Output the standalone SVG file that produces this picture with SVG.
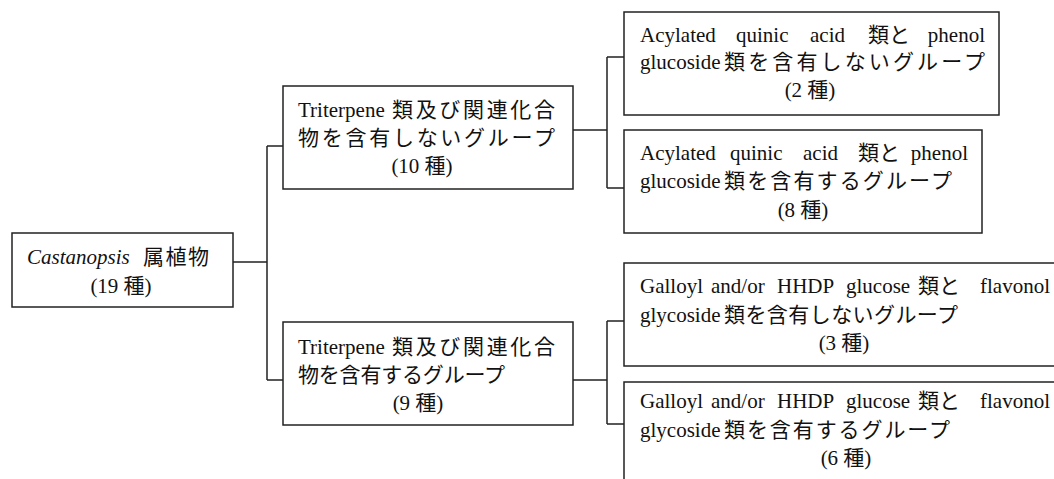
<svg xmlns="http://www.w3.org/2000/svg" width="1054" height="479" viewBox="0 0 1054 479">
<style>
  .box { fill: #fff; stroke: #222; stroke-width: 1.5; }
  .conn { fill: none; stroke: #222; stroke-width: 1.5; }
  text { font-family: "Liberation Serif", "Noto Sans CJK JP", serif; font-size: 21px; fill: #111; }
  .cjk { font-size: 21px; }
  .mid { text-anchor: middle; }
  .end { text-anchor: end; }
</style>
<rect width="1054" height="479" fill="#fff"/>
<g id="connectors">
  <path class="conn" d="M233,262 H267 M267,146 V380 M267,146 H283 M267,380 H283"/>
  <path class="conn" d="M573,130 H607 M607,57 V188 M607,57 H624 M607,188 H624"/>
  <path class="conn" d="M573,380 H607 M607,321 V424 M607,321 H624 M607,424 H624"/>
</g>
<g id="root">
  <rect class="box" x="12" y="233" width="221" height="74"/>
  <text x="27" y="264" font-style="italic">Castanopsis</text>
  <text class="cjk" x="143" y="264" textLength="66" lengthAdjust="spacing">属植物</text>
  <text class="mid" x="121" y="293">(19 種)</text>
</g>
<g id="no-triterpene">
  <rect class="box" x="283" y="86" width="290" height="103"/>
  <text x="298" y="117">Triterpene</text>
  <text class="cjk" x="392" y="117" textLength="163" lengthAdjust="spacing">類及び関連化合</text>
  <text class="cjk" x="298" y="145" textLength="257" lengthAdjust="spacing">物を含有しないグループ</text>
  <text class="mid" x="422" y="173">(10 種)</text>
</g>
<g id="triterpene">
  <rect class="box" x="283" y="322" width="290" height="103"/>
  <text x="298" y="354">Triterpene</text>
  <text class="cjk" x="392" y="354" textLength="163" lengthAdjust="spacing">類及び関連化合</text>
  <text class="cjk" x="298" y="382" textLength="207" lengthAdjust="spacing">物を含有するグループ</text>
  <text class="mid" x="418" y="410">(9 種)</text>
</g>
<g id="no-acylated">
  <rect class="box" x="624" y="12" width="375" height="103"/>
  <text x="640" y="42">Acylated</text>
  <text x="736" y="42">quinic</text>
  <text x="810" y="42">acid</text>
  <text class="cjk" x="868" y="42">類と</text>
  <text class="end" x="985" y="42">phenol</text>
  <text x="640" y="69">glucoside</text>
  <text class="cjk" x="724" y="69" textLength="261" lengthAdjust="spacing">類を含有しないグループ</text>
  <text class="mid" x="810" y="97">(2 種)</text>
</g>
<g id="acylated">
  <rect class="box" x="624" y="130" width="358" height="103"/>
  <text x="640" y="160">Acylated</text>
  <text x="730" y="160">quinic</text>
  <text x="803" y="160">acid</text>
  <text class="cjk" x="858" y="160">類と</text>
  <text class="end" x="968" y="160">phenol</text>
  <text x="640" y="188">glucoside</text>
  <text class="cjk" x="724" y="188" textLength="228" lengthAdjust="spacing">類を含有するグループ</text>
  <text class="mid" x="803" y="217">(8 種)</text>
</g>
<g id="no-galloyl">
  <rect class="box" x="624" y="263" width="440" height="103"/>
  <text x="640" y="293">Galloyl</text>
  <text x="711" y="293">and/or</text>
  <text x="777" y="293">HHDP</text>
  <text x="846" y="293">glucose</text>
  <text class="cjk" x="918" y="293">類と</text>
  <text class="end" x="1050" y="293">flavonol</text>
  <text x="640" y="322">glycoside</text>
  <text class="cjk" x="724" y="322" textLength="234" lengthAdjust="spacing">類を含有しないグループ</text>
  <text class="mid" x="844" y="350">(3 種)</text>
</g>
<g id="galloyl">
  <rect class="box" x="624" y="382" width="440" height="110"/>
  <text x="640" y="408">Galloyl</text>
  <text x="711" y="408">and/or</text>
  <text x="777" y="408">HHDP</text>
  <text x="846" y="408">glucose</text>
  <text class="cjk" x="918" y="408">類と</text>
  <text class="end" x="1050" y="408">flavonol</text>
  <text x="640" y="437">glycoside</text>
  <text class="cjk" x="724" y="437" textLength="226" lengthAdjust="spacing">類を含有するグループ</text>
  <text class="mid" x="846" y="465">(6 種)</text>
</g>
</svg>
